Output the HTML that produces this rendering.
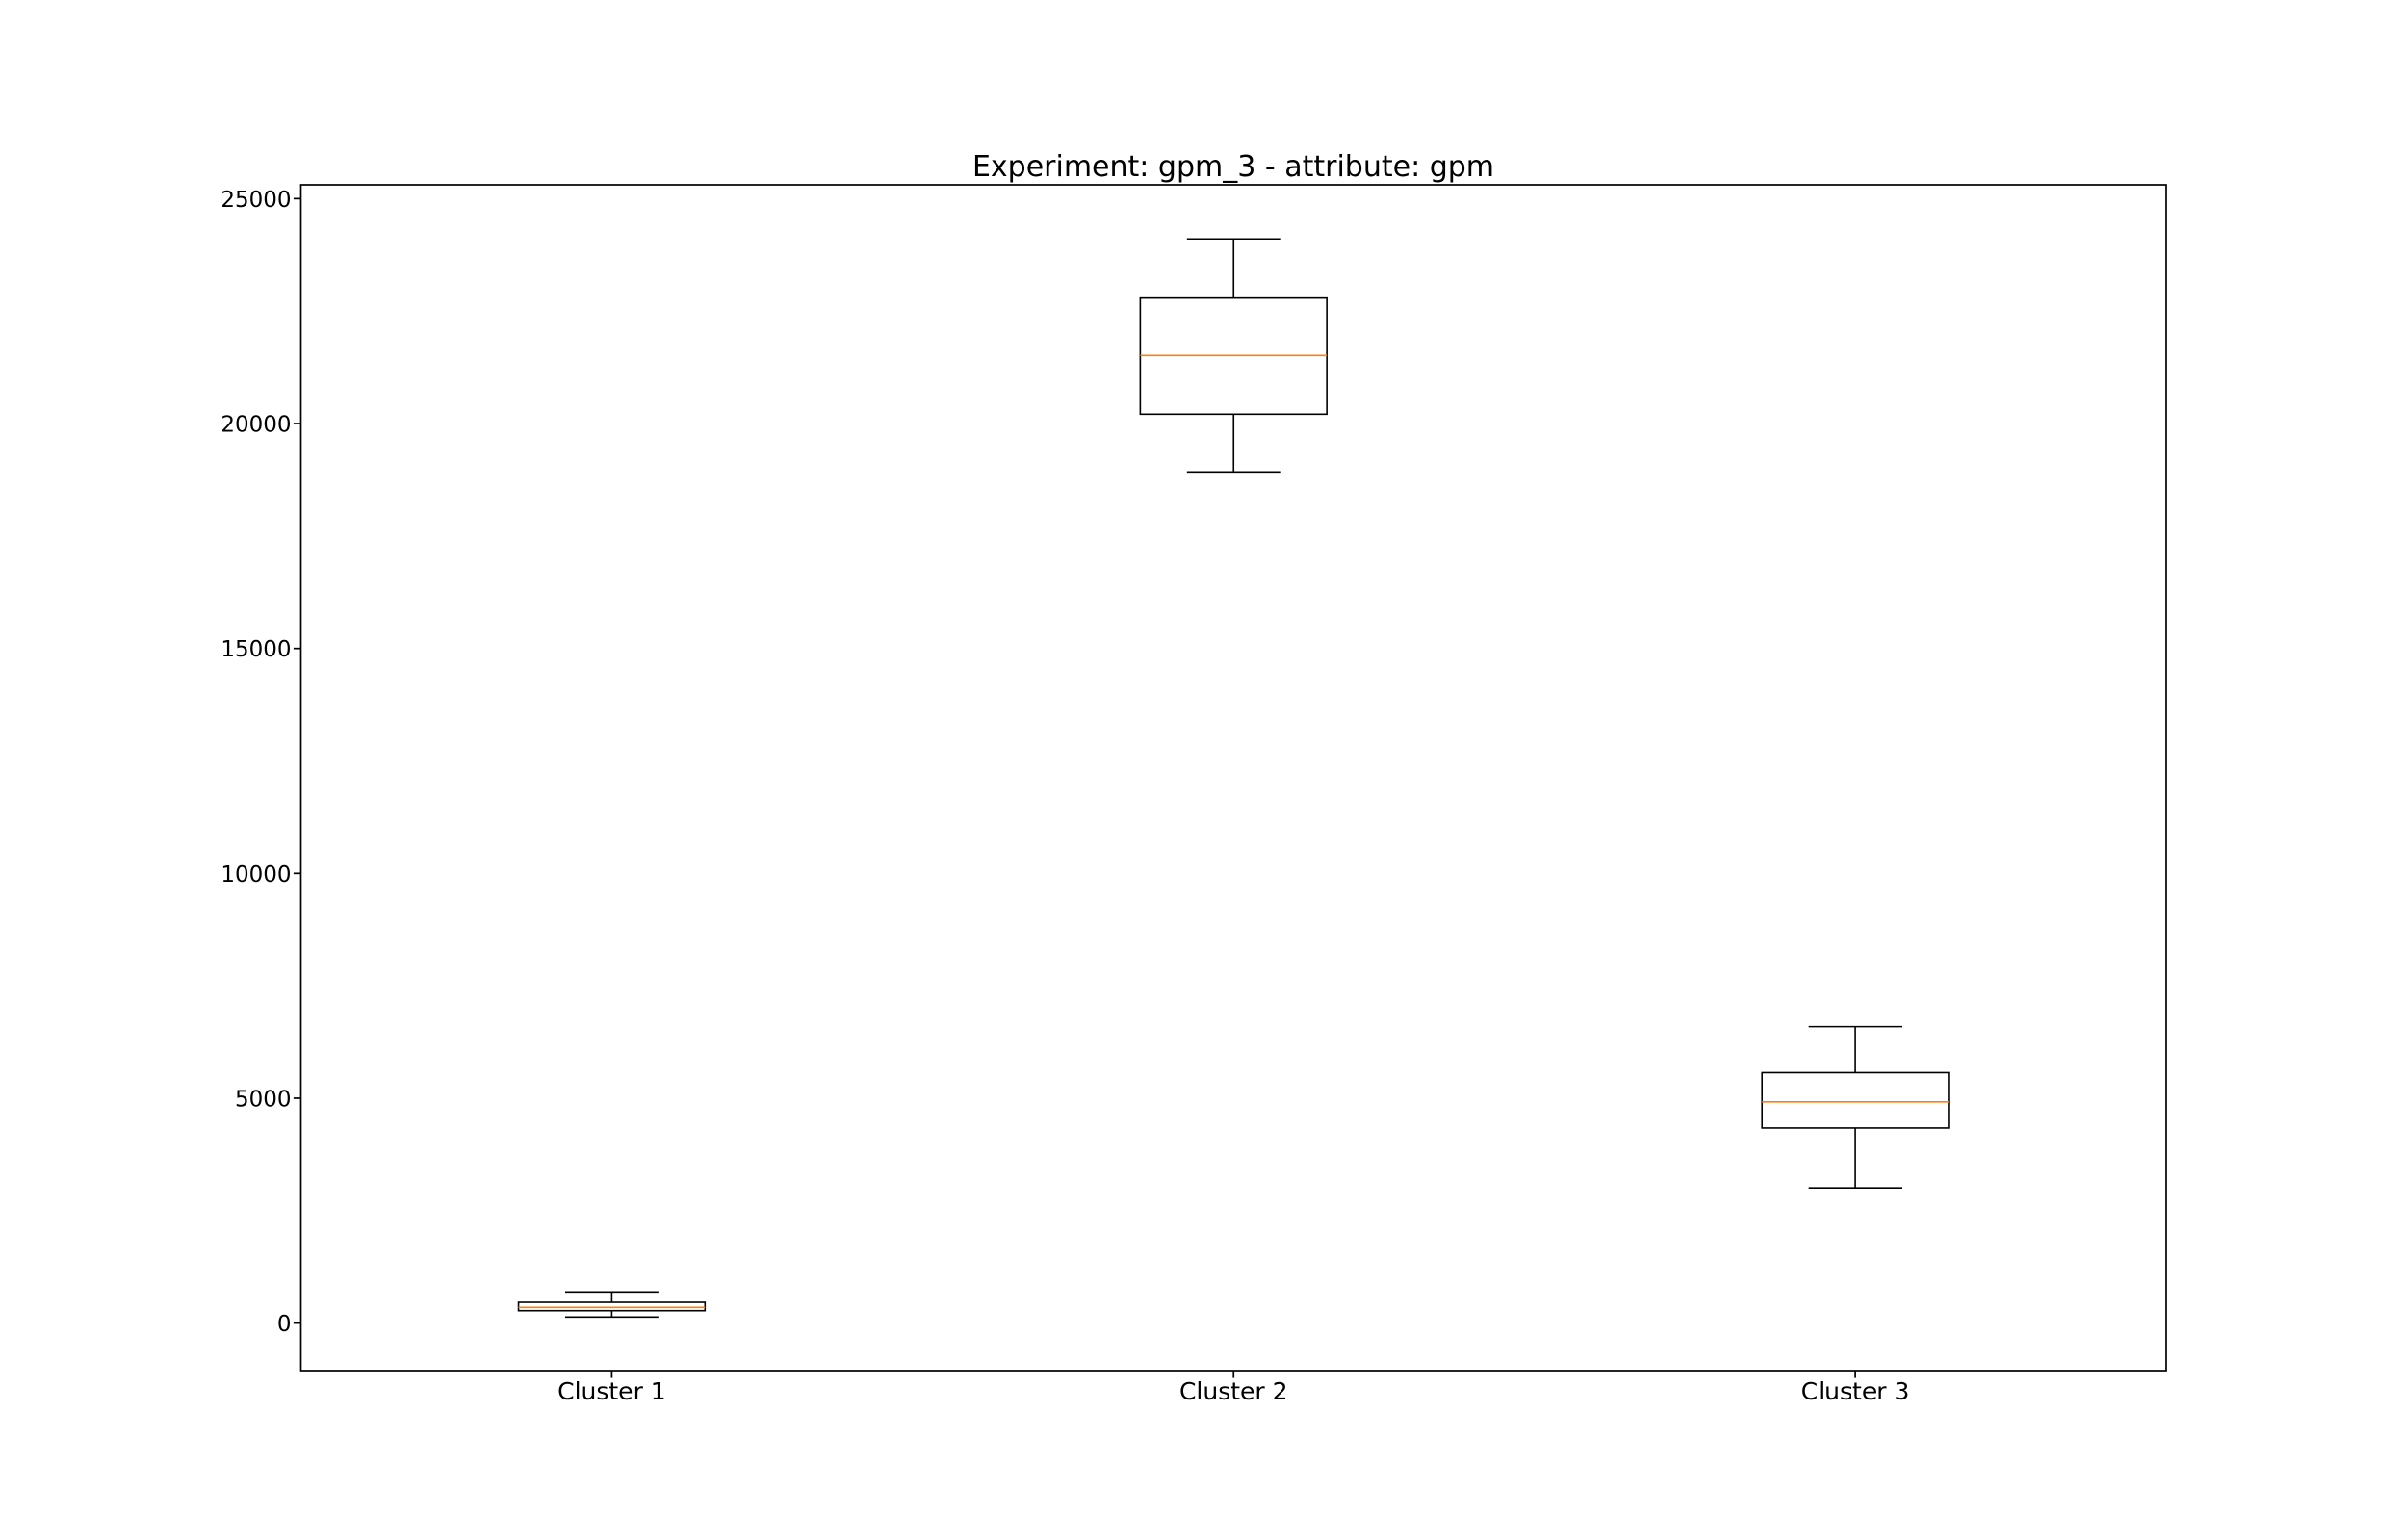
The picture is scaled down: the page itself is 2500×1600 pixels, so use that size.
<!DOCTYPE html>
<html><head><meta charset="utf-8"><style>
html,body{margin:0;padding:0;background:#fff;}
svg{display:block;}
text{font-family:"DejaVu Sans","Liberation Sans",sans-serif;fill:#000;}
</style></head><body>
<svg id="chart" width="2500" height="1600" viewBox="0 0 2500 1600">
<rect x="0" y="0" width="2500" height="1600" fill="#fff"/>
<text x="1281" y="183" font-size="30" text-anchor="middle">Experiment: gpm_3 - attribute: gpm</text>
<g id="marks"></g>
<g id="axes"></g>
<rect x="312.5" y="192" width="1937.5" height="1232" fill="none" stroke="#000" stroke-width="1.7"/>
</svg>
<script>
const categories = ["Cluster 1","Cluster 2","Cluster 3"];
const whiskerLow = [135, 18924, 3005];
const q1Values = [276, 20208, 4337];
const medianValues = [349, 21514, 4918];
const q3Values = [462, 22790, 5567];
const whiskerHigh = [691, 24104, 6591];
const yTicks = [0, 5000, 10000, 15000, 20000, 25000];

const L=312.5,R=2250,T=192,B=1424;
const yMin=-1057,yMax=25308;
const xMin=0.5,xMax=3.5;
const NS="http://www.w3.org/2000/svg";
function xs(v){return L+(v-xMin)/(xMax-xMin)*(R-L);}
function ys(v){return B-(v-yMin)/(yMax-yMin)*(B-T);}
const marks=document.getElementById('marks');
const axes=document.getElementById('axes');
function mk(tag,attrs,parent){const e=document.createElementNS(NS,tag);for(const k in attrs)e.setAttribute(k,attrs[k]);parent.appendChild(e);return e;}
const boxHalf=(xs(1.15)-xs(1));
const capHalf=boxHalf/2;
const SW=1.6;
categories.forEach((c,i)=>{
  const cx=xs(i+1);
  const g=mk('g',{},marks);
  
  
  let l=mk('line',{x1:cx,x2:cx,y1:ys(whiskerLow[i]),y2:ys(q1Values[i]),stroke:'#000','stroke-width':SW},g);
  
  
  l=mk('line',{x1:cx,x2:cx,y1:ys(q3Values[i]),y2:ys(whiskerHigh[i]),stroke:'#000','stroke-width':SW},g);
  
  
  l=mk('line',{x1:cx-capHalf,x2:cx+capHalf,y1:ys(whiskerLow[i]),y2:ys(whiskerLow[i]),stroke:'#000','stroke-width':SW},g);
  
  
  l=mk('line',{x1:cx-capHalf,x2:cx+capHalf,y1:ys(whiskerHigh[i]),y2:ys(whiskerHigh[i]),stroke:'#000','stroke-width':SW},g);
  
  
  const r=mk('rect',{x:cx-boxHalf,y:ys(q3Values[i]),width:2*boxHalf,height:ys(q1Values[i])-ys(q3Values[i]),fill:'none',stroke:'#000','stroke-width':SW},g);
  
  
  l=mk('line',{x1:cx-boxHalf,x2:cx+boxHalf,y1:ys(medianValues[i]),y2:ys(medianValues[i]),stroke:'#ff7f0e','stroke-width':SW},g);
  
  
  const tk=mk('line',{x1:cx,x2:cx,y1:B,y2:B+7.6,stroke:'#000','stroke-width':1.7},axes);
  
  
  const t=mk('text',{x:cx,y:B+30,'font-size':25,'text-anchor':'middle'},axes);
  t.textContent=c;
  
  
});
yTicks.forEach(v=>{
  const y=ys(v);
  const tk=mk('line',{x1:L-7.6,x2:L,y1:y,y2:y,stroke:'#000','stroke-width':1.7},axes);
  
  
  const t=mk('text',{x:L-10,y:y+8.5,'font-size':23,'text-anchor':'end'},axes);
  t.textContent=String(v);
  
  
});
</script>
</body></html>
